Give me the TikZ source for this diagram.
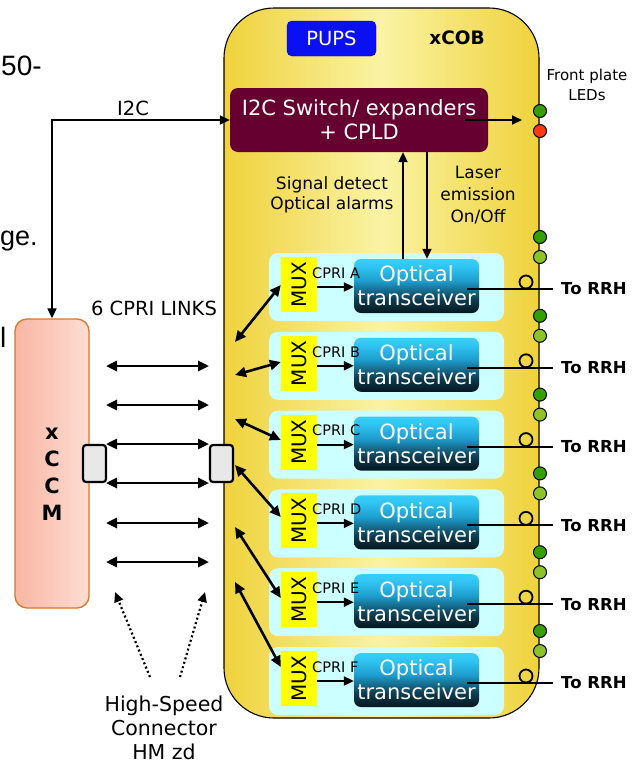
\documentclass[tikz,border=0pt]{standalone}
\usepackage{fontspec}
\setmainfont{DejaVu Sans}
\newfontfamily\slidefont{Liberation Sans}
\usetikzlibrary{arrows.meta,calc}

\definecolor{goldedge}{HTML}{EFD23C}
\definecolor{goldmid}{HTML}{FAF3A4}
\definecolor{pupsblue}{HTML}{0A10F2}
\definecolor{maroon}{HTML}{650030}
\definecolor{panelcyan}{HTML}{CCFFFF}
\definecolor{muxyellow}{HTML}{FFFF00}
\definecolor{xcvrA}{HTML}{05161E}
\definecolor{xcvrB}{HTML}{0F3E52}
\definecolor{xcvrC}{HTML}{1E9ECE}
\definecolor{xcvrD}{HTML}{30C4F2}
\definecolor{xcvrE}{HTML}{38CEFA}
\definecolor{ccmleft}{HTML}{F9B6A4}
\definecolor{ccmright}{HTML}{FDDDD3}
\definecolor{ccmedge}{HTML}{D47A2C}
\definecolor{ledgreen}{HTML}{33A000}
\definecolor{ledlight}{HTML}{8CC428}
\definecolor{ledred}{HTML}{FF3A10}
\definecolor{congray}{HTML}{E8E8E8}

\pgfdeclareverticalshading{xcvrshade}{100bp}{%
  color(0bp)=(xcvrA); color(25bp)=(xcvrA); color(38bp)=(xcvrB);
  color(55bp)=(xcvrC); color(68bp)=(xcvrD); color(75bp)=(xcvrE);
  color(100bp)=(xcvrE)}

\newcommand{\fsz}[2]{\fontsize{#1}{#2}\selectfont}

\begin{document}
\begin{tikzpicture}[x=1pt,y=-1pt,
  board/.style={draw=black, line width=1.1pt, rounded corners=50pt,
    left color=goldedge, right color=goldedge, middle color=goldmid,
    minimum width=315pt, minimum height=710pt, inner sep=0pt},
  pupsbox/.style={fill=pupsblue, draw=blue!60!black, line width=0.4pt,
    rounded corners=5pt, minimum width=89pt, minimum height=35pt,
    text=white, font=\fsz{19.5}{22}, inner sep=0pt},
  ctrlbox/.style={fill=maroon, rounded corners=8pt, minimum width=258pt,
    minimum height=64pt, text=white, font=\fsz{21}{24}, align=center,
    inner sep=0pt},
  panel/.style={fill=panelcyan, rounded corners=9pt, minimum width=235pt,
    minimum height=68pt, inner sep=0pt},
  muxbox/.style={fill=muxyellow, minimum width=36pt, minimum height=55pt,
    inner sep=0pt, font=\fsz{20}{20}},
  xcvrbox/.style={shading=xcvrshade, rounded corners=7pt,
    minimum width=125pt, minimum height=54pt, text=white,
    font=\fsz{21}{24}, align=center, inner sep=0pt},
  cprilabel/.style={font=\fsz{14.5}{15}, inner sep=0pt, anchor=west},
  rrhlabel/.style={font=\bfseries\fsz{16.5}{17}, inner xsep=8pt, inner ysep=0pt,
    anchor=west},
  ring/.style={circle, draw=black, line width=1.8pt, minimum size=13pt,
    inner sep=0pt},
  led/.style={circle, draw=black, line width=1pt, minimum size=13pt,
    inner sep=0pt},
  conbox/.style={fill=congray, draw=black, line width=2.2pt,
    rounded corners=3pt, minimum width=23pt, minimum height=37pt,
    inner sep=0pt},
  ccmbox/.style={draw=ccmedge, line width=1.3pt, rounded corners=12pt,
    left color=ccmleft, right color=ccmright,
    minimum width=74pt, minimum height=289pt, inner sep=0pt},
  ccmletter/.style={font=\bfseries\fsz{21}{22}, anchor=base, inner sep=0pt},
  label/.style={align=center, inner sep=0pt},
  arr/.style={line width=2.1pt, -{Triangle[length=10pt,width=9pt]}},
  dblarr/.style={line width=2.6pt,
    {Triangle[length=11pt,width=10pt]}-{Triangle[length=11pt,width=10pt]}},
  dotarr/.style={line width=2.2pt, dash pattern=on 2pt off 2.6pt,
    -{Triangle[length=10pt,width=9pt]}},
  wire/.style={line width=2.1pt}
]
\useasboundingbox (0,0) rectangle (636,764);

% fragments of surrounding slide text
\node[font=\slidefont\fsz{28}{30}, anchor=base west, inner sep=0pt] (fragA) at (1,75) {50-};
\node[font=\slidefont\fsz{27}{30}, anchor=base west, inner sep=0pt] (fragB) at (0,245) {ge.};
\node[font=\slidefont\fsz{28}{30}, anchor=base west, inner sep=0pt] (fragC) at (0,347) {l};

% xCOB board
\node[board] (xcob) at (381.5,363) {};
\node[pupsbox] (pups) at (331.5,38.5) {PUPS};
\node[font=\bfseries\fsz{18.5}{20}, inner sep=0pt] (xcobname) at (457,38) {xCOB};
\node[ctrlbox] (i2c) at (359,120) {I2C Switch/ expanders\\+ CPLD};

% front plate LEDs
\node[label, font=\fsz{15}{20}] (ledtitle) at (587,85) {Front plate\\LEDs};
\node[led, fill=ledgreen] (ledtop) at (540,111) {};
\node[led, fill=ledred] (ledalarm) at (540,131) {};
\coordinate (ledtip) at (522,120);
\draw[arr] ($(i2c.east)+(-23,0)$) -- (ledtip);

% control labels
\node[label, font=\fsz{17}{20}] (sigdet) at (332,195) {Signal detect\\Optical alarms};
\node[label, font=\fsz{17}{22}] (laser) at (478,195) {Laser\\emission\\On/Off};

% transceiver rows
\foreach \L/\ys/\ye [count=\i from 0] in
  {A/342/285, B/375/362, C/419/440, D/465/517, E/527/598, F/582/667} {
  \pgfmathsetmacro\yc{287+78.8*\i}
  \pgfmathsetmacro\ym{\yc-2.5}
  \pgfmathsetmacro\yx{\yc-1}
  \pgfmathsetmacro\yl{\yc-14}
  \pgfmathsetmacro\yr{\yc+2}
  \pgfmathsetmacro\yo{\yc-5}
  \pgfmathsetmacro\yla{\yc-50}
  \pgfmathsetmacro\ylb{\yc-30}
  \node[panel] (panel\L) at (386.5,\yc) {};
  \node[muxbox] (mux\L) at (299,\ym) {\rotatebox{90}{MUX}};
  \node[xcvrbox] (xcvr\L) at (416.5,\yx) {Optical\\transceiver};
  \node[cprilabel] (cpri\L) at (312,\yl) {CPRI \L};
  \draw[arr] (mux\L.east |- 0,\yc) -- (xcvr\L.west |- 0,\yc);
  \node[rrhlabel] (rrh\L) at (553,\yr) {To RRH};
  \draw[wire] ($(xcvr\L.east)+(-12,3)$) -- (rrh\L.west);
  \node[ring] (ring\L) at (526,\yo) {};
  \node[led, fill=ledgreen] (leda\L) at (540,\yla) {};
  \node[led, fill=ledlight] (ledb\L) at (540,\ylb) {};
  \coordinate (bp\L) at (235,\ys);
  \draw[dblarr] (bp\L) -- (mux\L.west |- 0,\ye);
}

% status / control lines between the controller and transceiver A
\coordinate (upx) at (403,0);
\coordinate (downx) at (427,0);
\draw[arr] (upx |- xcvrA.north) -- (upx |- i2c.south);
\draw[arr] (downx |- i2c.south) -- (downx |- xcvrA.north);

% xCCM card
\node[ccmbox] (xccm) at (52,463.5) {};
\node[ccmletter] (ccm1) at (52,439) {x};
\node[ccmletter] (ccm2) at (52,466) {C};
\node[ccmletter] (ccm3) at (52,493) {C};
\node[ccmletter] (ccm4) at (52,520) {M};

% I2C bus
\node[font=\fsz{19.5}{20}, inner sep=0pt] (i2clabel) at (133,108) {I2C};
\draw[line width=1.7pt, {Triangle[length=10pt,width=9pt]}-{Triangle[length=10pt,width=9pt]}]
  (xccm.north) |- (i2c.west);

% backplane connectors and CPRI links
\node[font=\fsz{19.5}{22}, inner sep=0pt] (cprilinks) at (154,308) {6 CPRI LINKS};
\node[conbox] (conL) at (94.5,463.5) {};
\node[conbox] (conR) at (221.5,463.5) {};
\foreach \y [count=\k] in {366,405,444,483,523,562} {
  \coordinate (lk\k) at (106,\y);
  \coordinate (rk\k) at (209,\y);
  \draw[dblarr] (lk\k) -- (rk\k);
}

% connector callout
\node[label, font=\fsz{20.5}{24}] (hsc) at (164,728) {High-Speed\\Connector\\HM zd};
\coordinate (dl0) at (150,677);
\coordinate (dl1) at (115,592);
\coordinate (dr0) at (180,677);
\coordinate (dr1) at (205,592);
\draw[dotarr] (dl0) -- (dl1);
\draw[dotarr] (dr0) -- (dr1);
\end{tikzpicture}
\end{document}
